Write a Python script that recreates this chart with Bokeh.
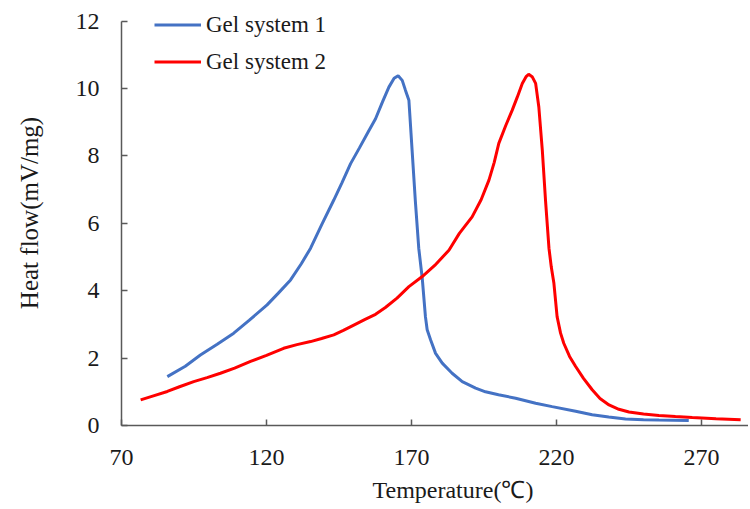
from bokeh.plotting import figure
from bokeh.models import Range1d, FixedTicker, Legend, LegendItem, Title
from bokeh.embed import file_html
from bokeh.resources import INLINE

# Gel system 1 (blue)
t1 = [85.8, 92, 97.2, 103, 108.7, 114, 120.2, 124, 128.3, 132, 135.2, 139, 143.2, 146, 149,
      152, 155, 157.6, 160, 162.2, 164, 165.4, 166.8, 167.9, 169.1, 170.2, 171.3, 172.5, 173.7,
      174.8, 175.4, 176.6, 178.3, 180.6, 184, 187.5, 192.1, 195.5, 200, 205.9, 212.8, 218.5,
      226.6, 232.3, 238, 243.8, 250, 255.3, 265.6]
hf1 = [1.45, 1.76, 2.09, 2.41, 2.74, 3.12, 3.58, 3.92, 4.32, 4.8, 5.26, 5.95, 6.69, 7.2, 7.77,
       8.23, 8.7, 9.1, 9.6, 10.04, 10.3, 10.38, 10.24, 9.95, 9.65, 8.17, 6.69, 5.26, 4.37,
       3.23, 2.84, 2.54, 2.14, 1.85, 1.55, 1.30, 1.11, 1.0, 0.91, 0.81, 0.66, 0.56,
       0.42, 0.32, 0.25, 0.19, 0.17, 0.16, 0.15]

# Gel system 2 (red)
t2 = [76.6, 81, 85.8, 90, 94.9, 99.5, 104.1, 109, 114.5, 120, 125.9, 130.5, 135.2, 139, 143.2,
      146.5, 150.1, 154, 157.6, 161, 165, 169.1, 173.7, 178, 182.9, 186.5, 190.9, 194, 196.7,
      198.5, 200.1, 202.5, 204.7, 206.5, 208.2, 209.5, 210.4, 211.6, 212.8, 213.9, 215.1,
      216.2, 217.4, 218.2, 219.1, 220.2, 221.4, 222.5, 224.5, 226.6, 229.3, 232.3, 235, 238.1,
      241.5, 245, 250, 255.3, 261, 266.8, 275, 283.5]
hf2 = [0.76, 0.88, 1.01, 1.15, 1.30, 1.42, 1.55, 1.70, 1.90, 2.08, 2.29, 2.40, 2.49, 2.58, 2.69,
       2.82, 2.98, 3.15, 3.30, 3.50, 3.78, 4.12, 4.42, 4.75, 5.2, 5.7, 6.19, 6.7, 7.28,
       7.8, 8.37, 8.9, 9.35, 9.75, 10.15, 10.35, 10.42, 10.35, 10.15, 9.45, 8.17,
       6.69, 5.26, 4.7, 4.22, 3.23, 2.74, 2.44, 2.05, 1.75, 1.4, 1.06, 0.8, 0.61,
       0.48, 0.40, 0.34, 0.30, 0.27, 0.24, 0.20, 0.17]

x_ticks = [70, 120, 170, 220, 270]
y_ticks = [0, 2, 4, 6, 8, 10, 12]
series_names = ["Gel system 1", "Gel system 2"]
x_title = "Temperature(℃)"
y_title = "Heat flow(mV/mg)"

FONT = "Liberation Serif"
TXT = "#1a1a1a"
AX = "#595959"

p = figure(width=748, height=509, output_backend="svg", toolbar_location=None,
           x_range=Range1d(70, 286.2), y_range=Range1d(0, 12.61),
           min_border_left=121, min_border_right=0, min_border_top=0, min_border_bottom=83)
p.outline_line_color = None
p.grid.grid_line_color = None
p.background_fill_color = "white"
p.border_fill_color = "white"

for ax in (p.xaxis[0], p.yaxis[0]):
    ax.axis_line_color = AX
    ax.axis_line_width = 1.5
    ax.major_tick_line_color = AX
    ax.major_tick_line_width = 1.5
    ax.major_tick_in = 6
    ax.major_tick_out = 0
    ax.minor_tick_line_color = None
    ax.major_label_text_font = FONT
    ax.major_label_text_font_size = "24px"
    ax.major_label_text_color = TXT

p.xaxis.ticker = FixedTicker(ticks=x_ticks)
p.yaxis.ticker = FixedTicker(ticks=y_ticks)
p.yaxis.bounds = (0, 12)
p.xaxis.major_label_standoff = 24
p.yaxis.major_label_standoff = 22

p.yaxis.axis_label = y_title
p.yaxis.axis_label_text_font = FONT
p.yaxis.axis_label_text_font_size = "25px"
p.yaxis.axis_label_text_font_style = "normal"
p.yaxis.axis_label_text_color = TXT
p.yaxis.axis_label_standoff = 30

r1 = p.line(t1, hf1, line_color="#4472C4", line_width=3)
r2 = p.line(t2, hf2, line_color="#FF0000", line_width=3)

legend = Legend(items=[LegendItem(label=series_names[0], renderers=[r1]),
                       LegendItem(label=series_names[1], renderers=[r2])],
                location=(33, 345), orientation="vertical",
                glyph_width=47, glyph_height=37, label_height=37, spacing=0,
                label_standoff=5, padding=0, margin=0,
                border_line_color=None, background_fill_alpha=0,
                label_text_font=FONT, label_text_font_size="23px", label_text_color=TXT)
p.add_layout(legend, "center")

p.add_layout(Title(text=x_title, align="left", offset=251, standoff=14,
                   text_font=FONT, text_font_size="24px", text_font_style="normal",
                   text_color=TXT), "below")

open("out.html", "w").write(file_html(p, INLINE))
